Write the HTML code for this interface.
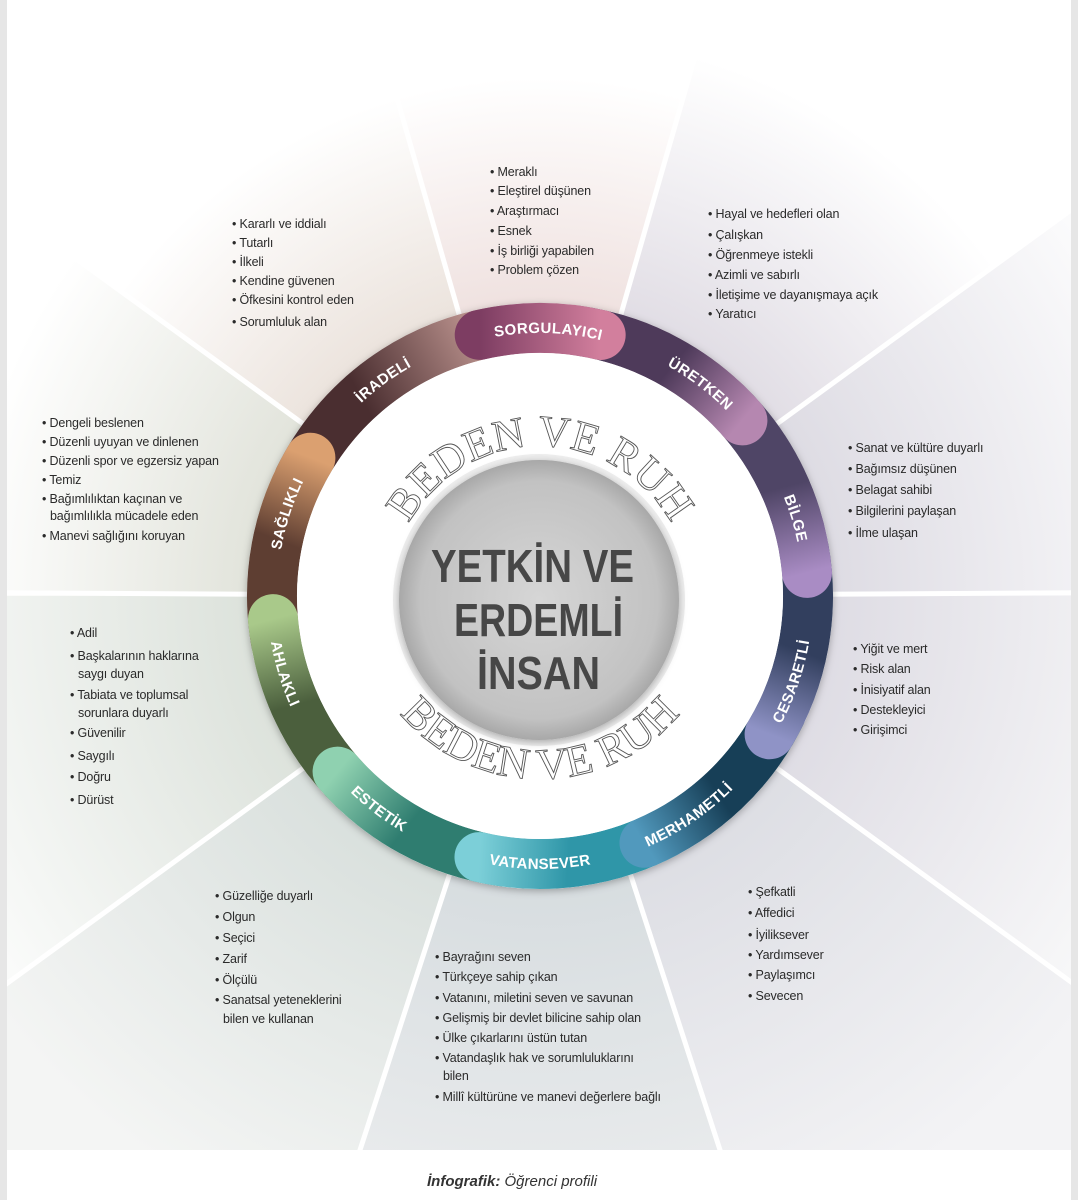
<!DOCTYPE html>
<html><head><meta charset="utf-8"><style>
html,body{margin:0;padding:0;background:#fff;overflow:hidden;}
svg{display:block;}
.t{font-family:"Liberation Sans",sans-serif;font-size:12.5px;fill:#2a2a2a;letter-spacing:-0.15px;}
.lb{font-family:"Liberation Sans",sans-serif;font-size:15px;font-weight:bold;fill:#fff;letter-spacing:0.4px;}
.br{font-family:"Liberation Serif",serif;font-size:44px;fill:#fff;stroke:#555;stroke-width:0.9;}
.ct{font-family:"Liberation Sans",sans-serif;font-size:46px;font-weight:bold;fill:#474747;}
</style></head><body>
<svg width="1078" height="1200" viewBox="0 0 1078 1200" xmlns="http://www.w3.org/2000/svg">
<defs>
<radialGradient id="w1" gradientUnits="userSpaceOnUse" cx="540" cy="596" r="720"><stop offset="0.38" stop-color="#eedfdd"/><stop offset="0.72" stop-color="#fff"/></radialGradient>
<radialGradient id="w2" gradientUnits="userSpaceOnUse" cx="540" cy="596" r="720"><stop offset="0.38" stop-color="#dfdbe3"/><stop offset="0.78" stop-color="#fff"/></radialGradient>
<radialGradient id="w3" gradientUnits="userSpaceOnUse" cx="540" cy="596" r="720"><stop offset="0.38" stop-color="#dcdae2"/><stop offset="0.9" stop-color="#fbfbfc"/></radialGradient>
<radialGradient id="w4" gradientUnits="userSpaceOnUse" cx="540" cy="596" r="720"><stop offset="0.38" stop-color="#dddbe3"/><stop offset="0.9" stop-color="#f7f7f8"/></radialGradient>
<radialGradient id="w5" gradientUnits="userSpaceOnUse" cx="540" cy="596" r="720"><stop offset="0.38" stop-color="#dcdde3"/><stop offset="0.95" stop-color="#f3f3f5"/></radialGradient>
<radialGradient id="w6" gradientUnits="userSpaceOnUse" cx="540" cy="596" r="720"><stop offset="0.38" stop-color="#d6dcdf"/><stop offset="0.95" stop-color="#eeeff0"/></radialGradient>
<radialGradient id="w7" gradientUnits="userSpaceOnUse" cx="540" cy="596" r="720"><stop offset="0.38" stop-color="#d8dfdc"/><stop offset="0.95" stop-color="#f4f5f4"/></radialGradient>
<radialGradient id="w8" gradientUnits="userSpaceOnUse" cx="540" cy="596" r="720"><stop offset="0.38" stop-color="#dbe1da"/><stop offset="0.9" stop-color="#fafbfa"/></radialGradient>
<radialGradient id="w9" gradientUnits="userSpaceOnUse" cx="540" cy="596" r="720"><stop offset="0.38" stop-color="#e0e2d9"/><stop offset="0.8" stop-color="#fff"/></radialGradient>
<radialGradient id="w10" gradientUnits="userSpaceOnUse" cx="540" cy="596" r="720"><stop offset="0.38" stop-color="#eae1da"/><stop offset="0.72" stop-color="#fff"/></radialGradient>

<linearGradient id="gS" gradientUnits="userSpaceOnUse" x1="268" y1="0" x2="241" y2="118"><stop offset="0" stop-color="#7d3d62"/><stop offset="1" stop-color="#d27f9d"/></linearGradient>
<linearGradient id="gU" gradientUnits="userSpaceOnUse" x1="248" y1="100" x2="202" y2="176"><stop offset="0" stop-color="#4e3a5a"/><stop offset="1" stop-color="#b587b0"/></linearGradient>
<linearGradient id="gB" gradientUnits="userSpaceOnUse" x1="248" y1="100" x2="202" y2="176"><stop offset="0" stop-color="#4f4566"/><stop offset="1" stop-color="#a98cc4"/></linearGradient>
<linearGradient id="gC" gradientUnits="userSpaceOnUse" x1="248" y1="100" x2="202" y2="176"><stop offset="0" stop-color="#323f5e"/><stop offset="1" stop-color="#8f93c6"/></linearGradient>
<linearGradient id="gM" gradientUnits="userSpaceOnUse" x1="248" y1="100" x2="202" y2="176"><stop offset="0" stop-color="#173f57"/><stop offset="1" stop-color="#5199bd"/></linearGradient>
<linearGradient id="gV" gradientUnits="userSpaceOnUse" x1="248" y1="100" x2="202" y2="176"><stop offset="0" stop-color="#2f96a8"/><stop offset="1" stop-color="#7ccfd8"/></linearGradient>
<linearGradient id="gE" gradientUnits="userSpaceOnUse" x1="248" y1="100" x2="202" y2="176"><stop offset="0" stop-color="#2f7d70"/><stop offset="1" stop-color="#8fd1b0"/></linearGradient>
<linearGradient id="gA" gradientUnits="userSpaceOnUse" x1="248" y1="100" x2="202" y2="176"><stop offset="0" stop-color="#4b5f3d"/><stop offset="1" stop-color="#a9c98a"/></linearGradient>
<linearGradient id="gSa" gradientUnits="userSpaceOnUse" x1="248" y1="100" x2="202" y2="176"><stop offset="0" stop-color="#5e3e32"/><stop offset="1" stop-color="#dba070"/></linearGradient>
<linearGradient id="gI" gradientUnits="userSpaceOnUse" x1="248" y1="100" x2="175" y2="203"><stop offset="0" stop-color="#4a2e30"/><stop offset="1" stop-color="#b48c88"/></linearGradient>

<radialGradient id="gc" cx="0.5" cy="0.5" r="0.5"><stop offset="0" stop-color="#d6d6d6"/><stop offset="0.85" stop-color="#c2c2c2"/><stop offset="1" stop-color="#a8a8a8"/></radialGradient>
<filter id="sh" x="-20%" y="-20%" width="140%" height="140%"><feDropShadow dx="0" dy="2" stdDeviation="4" flood-opacity="0.3"/></filter>

<path id="cw1" d="M540 859 A263 263 0 1 1 540 333 A263 263 0 1 1 540 859"/>
<path id="ccw1" d="M540 323 A273 273 0 1 0 540 869 A273 273 0 1 0 540 323"/>
<path id="cwB" d="M540 746 A150 150 0 1 1 540 446 A150 150 0 1 1 540 746"/>
<path id="ccwB" d="M540 413 A183 183 0 1 0 540 779 A183 183 0 1 0 540 413"/>
</defs>

<rect width="1078" height="1200" fill="#fff"/>
<path d="M540 596 L264 -365 L816 -365 Z" fill="url(#w1)"/>
<path d="M540 596 L816 -365 L1349 8 Z" fill="url(#w2)"/>
<path d="M540 596 L1349 8 L1540 596 Z" fill="url(#w3)"/>
<path d="M540 596 L1540 596 L1349 1184 Z" fill="url(#w4)"/>
<path d="M540 596 L1349 1184 L849 1547 Z" fill="url(#w5)"/>
<path d="M540 596 L849 1547 L231 1547 Z" fill="url(#w6)"/>
<path d="M540 596 L231 1547 L-269 1184 Z" fill="url(#w7)"/>
<path d="M540 596 L-269 1184 L-460 596 Z" fill="url(#w8)"/>
<path d="M540 596 L-460 596 L-269 8 Z" fill="url(#w9)"/>
<path d="M540 596 L-269 8 L264 -365 Z" fill="url(#w10)"/>
<g stroke="#fff" stroke-width="5">
<line x1="540" y1="596" x2="264" y2="-365"/><line x1="540" y1="596" x2="816" y2="-365"/>
<line x1="540" y1="596" x2="1349" y2="8"/><line x1="540" y1="596" x2="1540" y2="590"/>
<line x1="540" y1="596" x2="1349" y2="1184"/><line x1="540" y1="596" x2="849" y2="1547"/>
<line x1="540" y1="596" x2="231" y2="1547"/><line x1="540" y1="596" x2="-269" y2="1184"/>
<line x1="540" y1="596" x2="-460" y2="590"/><line x1="540" y1="596" x2="-269" y2="8"/>
</g>
<rect x="0" y="1150" width="1078" height="50" fill="#fff"/>
<rect x="0" y="0" width="7" height="1200" fill="#e6e6e6"/>
<rect x="1071" y="0" width="7" height="1200" fill="#e6e6e6"/>

<circle cx="540" cy="596" r="293" fill="#fff" filter="url(#sh)"/>
<g fill="none" stroke-width="50" stroke-linecap="round">
<circle r="268" stroke="url(#gI)" stroke-dasharray="262 3000" transform="translate(540 596) rotate(206)"/>
<circle r="268" stroke="url(#gSa)" stroke-dasharray="192 3000" transform="translate(540 596) rotate(170)"/>
<circle r="268" stroke="url(#gA)" stroke-dasharray="192 3000" transform="translate(540 596) rotate(134)"/>
<circle r="268" stroke="url(#gE)" stroke-dasharray="192 3000" transform="translate(540 596) rotate(98)"/>
<circle r="268" stroke="url(#gV)" stroke-dasharray="192 3000" transform="translate(540 596) rotate(62)"/>
<circle r="268" stroke="url(#gM)" stroke-dasharray="192 3000" transform="translate(540 596) rotate(26)"/>
<circle r="268" stroke="url(#gC)" stroke-dasharray="192 3000" transform="translate(540 596) rotate(-10)"/>
<circle r="268" stroke="url(#gB)" stroke-dasharray="192 3000" transform="translate(540 596) rotate(-46)"/>
<circle r="268" stroke="url(#gU)" stroke-dasharray="192 3000" transform="translate(540 596) rotate(-82)"/>
<circle r="268" stroke="url(#gS)" stroke-dasharray="122 3000" transform="translate(540 596) rotate(-103)"/>
</g>
<circle cx="540" cy="596" r="243" fill="#fff"/>
<circle cx="539" cy="600" r="146" fill="#eeeeee"/>
<circle cx="539" cy="600" r="140" fill="url(#gc)" filter="url(#sh)"/>

<text class="lb"><textPath href="#cw1" startOffset="50.5%" text-anchor="middle">SORGULAYICI</textPath></text>
<text class="lb"><textPath href="#cw1" startOffset="60.3%" text-anchor="middle">ÜRETKEN</textPath></text>
<text class="lb"><textPath href="#cw1" startOffset="70.3%" text-anchor="middle">BİLGE</textPath></text>
<text class="lb"><textPath href="#cw1" startOffset="30%" text-anchor="middle">SAĞLIKLI</textPath></text>
<text class="lb"><textPath href="#cw1" startOffset="40%" text-anchor="middle">İRADELİ</textPath></text>
<text class="lb"><textPath href="#ccw1" startOffset="69.8%" text-anchor="middle">CESARETLİ</textPath></text>
<text class="lb"><textPath href="#ccw1" startOffset="59.5%" text-anchor="middle">MERHAMETLİ</textPath></text>
<text class="lb"><textPath href="#ccw1" startOffset="50%" text-anchor="middle">VATANSEVER</textPath></text>
<text class="lb"><textPath href="#ccw1" startOffset="39.7%" text-anchor="middle">ESTETİK</textPath></text>
<text class="lb"><textPath href="#ccw1" startOffset="29.7%" text-anchor="middle">AHLAKLI</textPath></text>

<text class="br"><textPath href="#cwB" startOffset="50%" text-anchor="middle">BEDEN VE RUH</textPath></text>
<text class="br"><textPath href="#ccwB" startOffset="50%" text-anchor="middle">BEDEN VE RUH</textPath></text>

<text class="ct" x="431" y="582" textLength="203" lengthAdjust="spacingAndGlyphs">YETKİN VE</text>
<text class="ct" x="454" y="636" textLength="169" lengthAdjust="spacingAndGlyphs">ERDEMLİ</text>
<text class="ct" x="477" y="689" textLength="123" lengthAdjust="spacingAndGlyphs">İNSAN</text>

<g class="t">
<text x="490" y="176">• Meraklı</text>
<text x="490" y="195">• Eleştirel düşünen</text>
<text x="490" y="215">• Araştırmacı</text>
<text x="490" y="235">• Esnek</text>
<text x="490" y="255">• İş birliği yapabilen</text>
<text x="490" y="274">• Problem çözen</text>

<text x="232" y="228">• Kararlı ve iddialı</text>
<text x="232" y="247">• Tutarlı</text>
<text x="232" y="266">• İlkeli</text>
<text x="232" y="285">• Kendine güvenen</text>
<text x="232" y="304">• Öfkesini kontrol eden</text>
<text x="232" y="326">• Sorumluluk alan</text>

<text x="708" y="218">• Hayal ve hedefleri olan</text>
<text x="708" y="239">• Çalışkan</text>
<text x="708" y="259">• Öğrenmeye istekli</text>
<text x="708" y="279">• Azimli ve sabırlı</text>
<text x="708" y="299">• İletişime ve dayanışmaya açık</text>
<text x="708" y="318">• Yaratıcı</text>

<text x="848" y="452">• Sanat ve kültüre duyarlı</text>
<text x="848" y="473">• Bağımsız düşünen</text>
<text x="848" y="494">• Belagat sahibi</text>
<text x="848" y="515">• Bilgilerini paylaşan</text>
<text x="848" y="537">• İlme ulaşan</text>

<text x="42" y="427">• Dengeli beslenen</text>
<text x="42" y="446">• Düzenli uyuyan ve dinlenen</text>
<text x="42" y="465">• Düzenli spor ve egzersiz yapan</text>
<text x="42" y="484">• Temiz</text>
<text x="42" y="503">• Bağımlılıktan kaçınan ve</text>
<text x="50" y="520">bağımlılıkla mücadele eden</text>
<text x="42" y="540">• Manevi sağlığını koruyan</text>

<text x="853" y="653">• Yiğit ve mert</text>
<text x="853" y="673">• Risk alan</text>
<text x="853" y="694">• İnisiyatif alan</text>
<text x="853" y="714">• Destekleyici</text>
<text x="853" y="734">• Girişimci</text>

<text x="70" y="637">• Adil</text>
<text x="70" y="660">• Başkalarının haklarına</text>
<text x="78" y="678">saygı duyan</text>
<text x="70" y="699">• Tabiata ve toplumsal</text>
<text x="78" y="717">sorunlara duyarlı</text>
<text x="70" y="737">• Güvenilir</text>
<text x="70" y="760">• Saygılı</text>
<text x="70" y="781">• Doğru</text>
<text x="70" y="804">• Dürüst</text>

<text x="748" y="896">• Şefkatli</text>
<text x="748" y="917">• Affedici</text>
<text x="748" y="939">• İyiliksever</text>
<text x="748" y="959">• Yardımsever</text>
<text x="748" y="979">• Paylaşımcı</text>
<text x="748" y="1000">• Sevecen</text>

<text x="215" y="900">• Güzelliğe duyarlı</text>
<text x="215" y="921">• Olgun</text>
<text x="215" y="942">• Seçici</text>
<text x="215" y="963">• Zarif</text>
<text x="215" y="984">• Ölçülü</text>
<text x="215" y="1004">• Sanatsal yeteneklerini</text>
<text x="223" y="1023">bilen ve kullanan</text>

<text x="435" y="961">• Bayrağını seven</text>
<text x="435" y="981">• Türkçeye sahip çıkan</text>
<text x="435" y="1002">• Vatanını, miletini seven ve savunan</text>
<text x="435" y="1022">• Gelişmiş bir devlet bilicine sahip olan</text>
<text x="435" y="1042">• Ülke çıkarlarını üstün tutan</text>
<text x="435" y="1062">• Vatandaşlık hak ve sorumluluklarını</text>
<text x="443" y="1080">bilen</text>
<text x="435" y="1101">• Millî kültürüne ve manevi değerlere bağlı</text>
</g>

<text x="427" y="1186" style="font-family:'Liberation Sans',sans-serif;font-size:15px;font-style:italic;fill:#333"><tspan font-weight="bold">İnfografik:</tspan> Öğrenci profili</text>
</svg>
</body></html>
